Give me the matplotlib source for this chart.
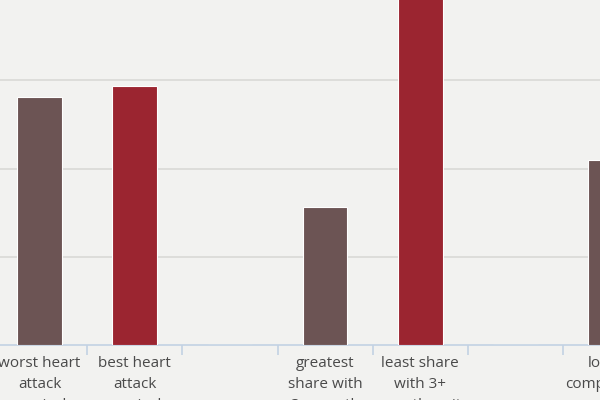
import matplotlib.pyplot as plt
import numpy as np

# categories (empty strings are spacer slots between groups)
categories = ['worst heart\nattack\nsurvival', 'best heart\nattack\nsurvival', '',
              'greatest\nshare with\n3+ month\nwait', 'least share\nwith 3+\nmonth wait', '',
              'lowest\ncomplication\nrates']
values = [28.1, 29.4, 0, 15.6, 45.0, 0, 21.0]
bar_colors = ['#6c5454', '#9b2530', '#6c5454', '#6c5454', '#9b2530', '#6c5454', '#6c5454']

bg = '#f2f2f0'
fig = plt.figure(figsize=(6, 4), dpi=100, facecolor=bg)
# the chart is cropped on both sides, so the axes runs past the figure edges
ax = fig.add_axes([-0.1, 55 / 400, 1.3, 345 / 400])
ax.set_facecolor(bg)

x = np.arange(len(categories))
ax.bar(x, values, width=0.47, color=bar_colors, edgecolor='white', linewidth=0.8, zorder=3)

ax.set_yticks([10, 20, 30])
ax.yaxis.grid(True, color='#d9d9d6', linewidth=1.2, zorder=0)
ax.tick_params(axis='y', left=False, labelleft=False)

ax.set_xticks(x)
ax.set_xticklabels(categories, fontsize=11, color='#4a4a4a', family='Open Sans', linespacing=1.52)
ax.set_xticks(np.arange(-1, len(categories)) + 0.5, minor=True)
ax.tick_params(axis='x', which='major', length=0, pad=8)
ax.tick_params(axis='x', which='minor', length=7.5, color='#c3d2e3', width=1.2)

# limits last so the tick calls don't widen them
ax.set_xlim((-60 - 39.5) / 95.2, (720 - 39.5) / 95.2)
ax.set_ylim(0, 345 / 88.2 * 10)

for s in ['top', 'left', 'right']:
    ax.spines[s].set_visible(False)
ax.spines['bottom'].set_color('#c3d2e3')
ax.spines['bottom'].set_linewidth(1.2)

plt.savefig('out.png', dpi=100, facecolor=bg)
